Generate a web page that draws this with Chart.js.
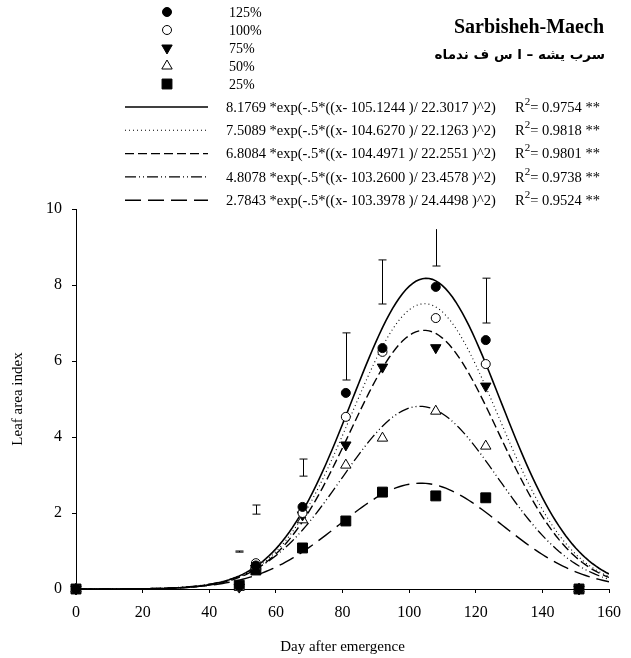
<!DOCTYPE html>
<html>
<head>
<meta charset="utf-8">
<script src="https://cdn.jsdelivr.net/npm/chart.js@4.4.1/dist/chart.umd.min.js"></script>
<style>
  html, body { margin: 0; padding: 0; background: #fff; }
  #wrap { width: 631px; height: 658px; }
</style>
</head>
<body>
<div id="wrap"><canvas id="lai"></canvas></div>
<script>
// sampling days and measured leaf area index per treatment
const days = [0, 49, 54, 68, 81, 92, 108, 123, 151];
const treatments = ['125%', '100%', '75%', '50%', '25%'];
const lai125 = [0, 0.08, 0.62, 2.16, 5.16, 6.34, 7.95, 6.55, 0];
const lai100 = [0, 0.06, 0.68, 2.0, 4.53, 6.24, 7.13, 5.92, 0];
const lai75 = [0, 0.05, 0.55, 1.95, 3.79, 5.84, 6.35, 5.34, 0];
const lai50 = [0, 0.05, 0.6, 1.82, 3.26, 3.97, 4.68, 3.76, 0];
const lai25 = [0, 0.1, 0.5, 1.08, 1.79, 2.55, 2.45, 2.4, 0];

// fitted gaussian parameters (as printed in the legend)
const amps = [8.1769, 7.5089, 6.8084, 4.8078, 2.7843];
const centers = [105.1244, 104.627, 104.4971, 103.26, 103.3978];
const widths = [22.3017, 22.1263, 22.2551, 23.4578, 24.4498];
const r2 = ['0.9754', '0.9818', '0.9801', '0.9738', '0.9524'];

// error bars (LSD)
const errDays = [49, 54, 68, 81, 92, 108, 123];
const errLow = [0.97, 1.97, 2.97, 5.5, 7.5, 8.5, 7.0];
const errHigh = [1.0, 2.21, 3.42, 6.74, 8.66, 9.47, 8.18];
const errTopCap = [true, true, true, true, true, false, true];

const xTicks = [0, 20, 40, 60, 80, 100, 120, 140, 160];
const yTicks = [0, 2, 4, 6, 8, 10];

const serif = "'Liberation Serif', 'Times New Roman', serif";
const series = [lai125, lai100, lai75, lai50, lai25];
const markers = [
  { style: 'circle', fill: '#000', r: 4.5, rot: 0 },
  { style: 'circle', fill: '#fff', r: 4.5, rot: 0 },
  { style: 'triangle', fill: '#000', r: 6, rot: 180 },
  { style: 'triangle', fill: '#fff', r: 6, rot: 0 },
  { style: 'rect', fill: '#000', r: 7, rot: 0 },
];
const dashes = [[], [1, 3], [9, 4], [11, 3, 1, 3, 1, 3], [16, 7]];
const lineWidths = [1.6, 1.1, 1.4, 1.3, 1.4];

const curveDays = [];
for (let d = 0; d <= 160; d++) curveDays.push(d);

function gauss(i, x) {
  return amps[i] * Math.exp(-0.5 * Math.pow((x - centers[i]) / widths[i], 2));
}

const datasets = [];
series.forEach((vals, i) => {
  datasets.push({
    label: treatments[i],
    data: days.map((d, k) => ({ x: d, y: vals[k] })),
    showLine: false,
    pointStyle: markers[i].style,
    pointRadius: markers[i].r,
    pointRotation: markers[i].rot,
    pointBackgroundColor: markers[i].fill,
    pointBorderColor: '#000',
    pointBorderWidth: 1,
    clip: false,
    order: 0,
  });
});
series.forEach((vals, i) => {
  datasets.push({
    label: 'fit ' + treatments[i],
    data: curveDays.map((d) => ({ x: d, y: gauss(i, d) })),
    showLine: true,
    borderColor: '#000',
    borderWidth: lineWidths[i],
    borderDash: dashes[i],
    pointRadius: 0,
    tension: 0,
    order: 1,
  });
});

function drawMarker(ctx, m, x, y) {
  ctx.beginPath();
  if (m.style === 'circle') {
    ctx.arc(x, y, m.r, 0, Math.PI * 2);
  } else if (m.style === 'rect') {
    const s = m.r * Math.SQRT1_2;
    ctx.rect(x - s, y - s, 2 * s, 2 * s);
  } else {
    const dir = m.rot === 180 ? -1 : 1;
    const r = m.r;
    ctx.moveTo(x, y - dir * r);
    ctx.lineTo(x + r * 0.866, y + dir * r * 0.5);
    ctx.lineTo(x - r * 0.866, y + dir * r * 0.5);
    ctx.closePath();
  }
  ctx.fillStyle = m.fill;
  ctx.fill();
  ctx.lineWidth = 1;
  ctx.strokeStyle = '#000';
  ctx.stroke();
}

const overlay = {
  id: 'overlay',
  afterDatasetsDraw(chart) {
    const ctx = chart.ctx;
    const xs = chart.scales.x;
    const ys = chart.scales.y;
    ctx.save();

    // error bars
    ctx.strokeStyle = '#000';
    ctx.lineWidth = 1;
    ctx.setLineDash([]);
    errDays.forEach((d, i) => {
      const x = Math.round(xs.getPixelForValue(d)) + 0.5;
      const y1 = ys.getPixelForValue(errLow[i]);
      const y2 = ys.getPixelForValue(errHigh[i]);
      ctx.beginPath();
      ctx.moveTo(x, y1);
      ctx.lineTo(x, y2);
      ctx.moveTo(x - 4, y1);
      ctx.lineTo(x + 4, y1);
      if (errTopCap[i]) {
        ctx.moveTo(x - 4, y2);
        ctx.lineTo(x + 4, y2);
      }
      ctx.stroke();
    });

    // marker legend
    ctx.font = '14px ' + serif;
    ctx.textBaseline = 'middle';
    ctx.textAlign = 'left';
    ctx.fillStyle = '#000';
    treatments.forEach((t, i) => {
      const y = 12 + i * 18;
      drawMarker(ctx, markers[i], 167, y);
      ctx.fillStyle = '#000';
      ctx.fillText(t, 229, y + 1);
    });

    // fitted curve legend
    treatments.forEach((t, i) => {
      const y = 107 + i * 23.3;
      ctx.beginPath();
      ctx.setLineDash(dashes[i]);
      ctx.lineWidth = lineWidths[i];
      ctx.moveTo(125, y);
      ctx.lineTo(208, y);
      ctx.stroke();
      ctx.setLineDash([]);
      const eq = amps[i].toFixed(4) + ' *exp(-.5*((x- ' + centers[i].toFixed(4) +
        ' )/ ' + widths[i].toFixed(4) + ' )^2)';
      ctx.font = '14.5px ' + serif;
      ctx.fillText(eq, 226, y + 1);
      let x = 515;
      ctx.fillText('R', x, y + 1);
      x += ctx.measureText('R').width;
      ctx.font = '11px ' + serif;
      ctx.fillText('2', x, y - 5);
      x += ctx.measureText('2').width;
      ctx.font = '14.5px ' + serif;
      ctx.fillText('= ' + r2[i] + ' **', x, y + 1);
    });

    // site title
    ctx.textAlign = 'right';
    ctx.font = 'bold 20px ' + serif;
    ctx.fillText('Sarbisheh-Maech', 604, 28);
    ctx.font = "bold 13.5px 'DejaVu Sans', sans-serif";
    ctx.fillText('سرب یشه – ا س ف ندماه', 605, 55);

    ctx.restore();
  },
};

new Chart(document.getElementById('lai'), {
  type: 'scatter',
  data: { datasets: datasets },
  options: {
    responsive: true,
    maintainAspectRatio: false,
    animation: false,
    layout: { padding: { left: 0, top: 209, right: 22, bottom: 0 } },
    plugins: { legend: { display: false }, tooltip: { enabled: false } },
    scales: {
      x: {
        type: 'linear',
        min: 0,
        max: 160,
        afterBuildTicks: (s) => { s.ticks = xTicks.map((v) => ({ value: v })); },
        afterFit: (s) => { s.height = 69; },
        grid: { drawOnChartArea: false, drawTicks: true, tickLength: 4, color: '#000' },
        border: { color: '#000', width: 1 },
        ticks: { color: '#000', padding: 10, maxRotation: 0, font: { family: serif, size: 16 } },
        title: {
          display: true,
          text: 'Day after emergence',
          color: '#000',
          font: { family: serif, size: 15 },
          padding: { top: 0, bottom: 2 },
        },
      },
      y: {
        type: 'linear',
        min: 0,
        max: 10,
        afterBuildTicks: (s) => { s.ticks = yTicks.map((v) => ({ value: v })); },
        afterFit: (s) => { s.width = 76; },
        grid: { drawOnChartArea: false, drawTicks: true, tickLength: 4, color: '#000' },
        border: { color: '#000', width: 1 },
        ticks: { color: '#000', padding: 10, font: { family: serif, size: 16 } },
        title: {
          display: true,
          text: 'Leaf area index',
          color: '#000',
          font: { family: serif, size: 15 },
          padding: { top: 9, bottom: 0 },
        },
      },
    },
  },
  plugins: [overlay],
});
</script>
</body>
</html>
